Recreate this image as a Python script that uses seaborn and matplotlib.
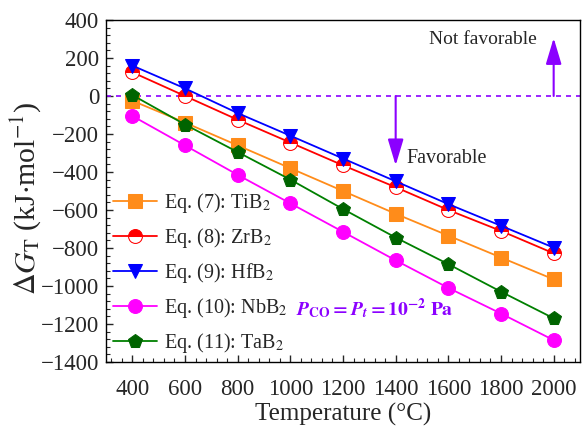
import matplotlib
matplotlib.use("Agg")
import matplotlib.pyplot as plt
import seaborn as sns
import pandas as pd

temperature = [400, 600, 800, 1000, 1200, 1400, 1600, 1800, 2000]
tib2 = [-25, -140, -260, -380, -500, -620, -735, -850, -965]
zrb2 = [125, 0, -125, -245, -365, -480, -600, -710, -828]
hfb2 = [160, 40, -90, -209, -329, -449, -569, -683, -798]
nbb2 = [-105, -260, -415, -565, -715, -865, -1010, -1145, -1285]
tab2 = [5, -150, -295, -440, -595, -745, -885, -1030, -1170]

labels = ["Eq. (7): TiB$_2$", "Eq. (8): ZrB$_2$", "Eq. (9): HfB$_2$",
          "Eq. (10): NbB$_2$", "Eq. (11): TaB$_2$"]

sns.set_style("ticks")
plt.rcParams['font.family'] = ['Liberation Serif', 'DejaVu Serif']
plt.rcParams['mathtext.fontset'] = 'stix'

fig = plt.figure(figsize=(5.83, 4.33), dpi=100)
ax = fig.add_axes([106/583, 1-362/433, 474/583, 342/433])

violet = '#8B00FF'
ax.axhline(0, color=violet, ls=(0, (3, 3)), lw=1.2, zorder=1)

styles = [
    (tib2, '#FF8C1A', 's', dict(mfc='#FF8C1A', mec='#FF8C1A')),
    (zrb2, '#FF0000', 'o', dict(mfc='#FF0000', mec='#FF0000', fillstyle='top', markerfacecoloralt='white')),
    (hfb2, '#0000FF', 'v', dict(mfc='#0000FF', mec='#0000FF')),
    (nbb2, '#FF00FF', 'o', dict(mfc='#FF00FF', mec='#FF00FF')),
    (tab2, '#008000', 'p', dict(mfc='#006400', mec='#006400')),
]
handles = []
for (vals, col, mk, kw), lab in zip(styles, labels):
    df = pd.DataFrame({'T': temperature, 'G': vals})
    sns.lineplot(data=df, x='T', y='G', ax=ax, color=col, marker=mk,
                 markersize=10, lw=1.3, label=lab, legend=False, zorder=3, **kw)
    handles.append(ax.lines[-1])

ax.legend(handles=handles, labels=labels, loc='lower left', frameon=False,
          fontsize=14.5, handlelength=2.2, labelspacing=0.55, handletextpad=0.35,
          borderaxespad=0.05, borderpad=0.3, bbox_to_anchor=(0.0, 0.0))

ax.set_xlim(300, 2100)
ax.set_ylim(-1400, 400)
ax.set_xticks(range(400, 2001, 200))
ax.set_yticks(range(-1400, 401, 200))
ax.set_xticks(range(320, 2100, 40), minor=True)
ax.set_yticks(range(-1400, 401, 40), minor=True)
ax.tick_params(axis='both', which='major', direction='in', length=5, width=1,
               labelsize=16.5, top=False, right=False)
ax.tick_params(axis='x', which='major', pad=12)
ax.tick_params(axis='y', which='major', pad=5)
ax.tick_params(axis='both', which='minor', direction='in', length=3, width=0.8,
               top=False, right=False)
ax.set_yticklabels([f"{v}".replace('-', '\u2212') for v in range(-1400, 401, 200)])
for s in ax.spines.values():
    s.set_linewidth(1.0)
    s.set_color('black')

ax.set_xlabel('Temperature (°C)', fontsize=18, labelpad=2)
ax.set_ylabel(r'$\Delta G_{\mathrm{T}}$ (kJ$\cdot$mol$^{-1}$)', fontsize=21.5)
ax.yaxis.set_label_coords(-0.132, 0.48)

# arrows and annotations
arrow_kw = dict(arrowstyle='-|>,head_width=0.24,head_length=0.8',
                color=violet, lw=1.5, mutation_scale=20, shrinkA=0, shrinkB=0)
ax.annotate('', xy=(2000, 305), xytext=(2000, 0), arrowprops=arrow_kw)
ax.text(1935, 295, 'Not favorable', fontsize=14, ha='right', va='center')
ax.annotate('', xy=(1400, -365), xytext=(1400, 0), arrowprops=arrow_kw)
ax.text(1440, -330, 'Favorable', fontsize=14.5, ha='left', va='center')

ax.text(1320, -1120, r'$\mathbfit{P}_{\mathbf{CO}}\mathbf{=}\mathbfit{P}_{\mathbfit{t}}\mathbf{=10^{-2}\ Pa}$',
        color=violet, fontsize=14, ha='center', va='center')

fig.savefig('out.png', dpi=100)
